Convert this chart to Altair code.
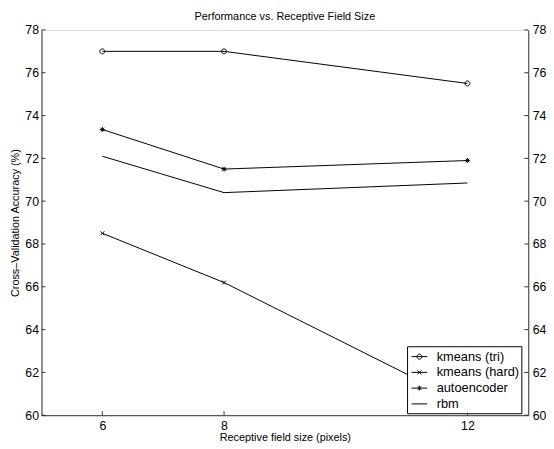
import altair as alt
import pandas as pd

# ---- data ----
chart_title = "Performance vs. Receptive Field Size"
sizes = [6, 8, 12]
series_names = ["kmeans (tri)", "kmeans (hard)", "autoencoder", "rbm"]
kmeans_tri = [77.0, 77.0, 75.5]
kmeans_hard = [68.5, 66.2, 60.5]
autoencoder = [73.35, 71.5, 71.9]
rbm = [72.1, 70.4, 70.85]
y_ticks = [60, 62, 64, 66, 68, 70, 72, 74, 76, 78]
x_ticks = [6, 8, 12]

rows = []
for name, vals in zip(series_names, [kmeans_tri, kmeans_hard, autoencoder, rbm]):
    for s, v in zip(sizes, vals):
        rows.append({"size": s, "acc": v, "series": name})
df = pd.DataFrame(rows)
df_markers = df[df["series"] != "rbm"]
df_legend = pd.DataFrame({"series": series_names})
df_yt = pd.DataFrame({"v": y_ticks})
df_xt = pd.DataFrame({"v": x_ticks})
df_title = pd.DataFrame({"t": [chart_title]})

FONT = "Liberation Sans"
W, H = 494, 391
AX = "#333333"

xscale = alt.Scale(domain=[5, 13], nice=False, zero=False)
yscale = alt.Scale(domain=[60, 78], nice=False, zero=False)

x_axis = alt.Axis(values=x_ticks, ticks=False, grid=False, domainColor=AX,
                  labelFont=FONT, labelFontSize=12.5, labelColor="black", labelPadding=4,
                  title="Receptive field size (pixels)", titleFont=FONT, titleFontSize=11,
                  titleFontWeight="normal", titleColor="black", titleBaseline="alphabetic",
                  titleX=W / 2, titleY=26)
y_axis_left = alt.Axis(values=y_ticks, ticks=False, grid=False, domainColor=AX,
                       labelFont=FONT, labelFontSize=12.5, labelColor="black", labelPadding=3,
                       title="Cross\u2013Validation Accuracy (%)", titleFont=FONT, titleFontSize=11,
                       titleFontWeight="normal", titleColor="black", titleBaseline="alphabetic",
                       titleAngle=270, titleAlign="center", titleX=-23, titleY=H / 2)
y_axis_right = alt.Axis(orient="right", values=y_ticks, ticks=False, grid=False, domainColor=AX,
                        labelFont=FONT, labelFontSize=12.5, labelColor="black", labelPadding=4,
                        title=None)

marker_paths = [
    "M1,0A1,1 0 1,1 -1,0A1,1 0 1,1 1,0Z",
    "M-0.8,-0.8L0.8,0.8M-0.8,0.8L0.8,-0.8",
    "M-1,0L1,0M0,-1L0,1M-0.7,-0.7L0.7,0.7M-0.7,0.7L0.7,-0.7",
]
r = 0.3125
legend_paths = [
    f"M-1,0L1,0M{r},0A{r},{r} 0 1,1 -{r},0A{r},{r} 0 1,1 {r},0Z",
    "M-1,0L1,0M-0.25,-0.25L0.25,0.25M-0.25,0.25L0.25,-0.25",
    "M-1,0L1,0M0,-0.3L0,0.3M-0.22,-0.22L0.22,0.22M-0.22,0.22L0.22,-0.22",
    "M-1,0L1,0",
]

lines = alt.Chart(df).mark_line(color="black", strokeWidth=1).encode(
    x=alt.X("size:Q", scale=xscale, axis=x_axis),
    y=alt.Y("acc:Q", scale=yscale, axis=y_axis_left),
    detail="series:N",
)

markers = alt.Chart(df_markers).mark_point(filled=False, color="black", strokeWidth=1,
                                           size=25, opacity=1).encode(
    x=alt.X("size:Q", scale=xscale, axis=x_axis),
    y=alt.Y("acc:Q", scale=yscale, axis=None),
    shape=alt.Shape("series:N", scale=alt.Scale(domain=series_names[:3], range=marker_paths),
                    legend=None),
)

# hidden (clipped) points that only carry the legend
legend_layer = alt.Chart(df_legend).mark_point(filled=False, color="black", strokeWidth=1,
                                               size=256, opacity=1, clip=True).encode(
    x=alt.value(-300),
    y=alt.value(H / 2),
    shape=alt.Shape("series:N", scale=alt.Scale(domain=series_names, range=legend_paths),
                    legend=alt.Legend(title=None, orient="none", legendX=371, legendY=321,
                                      fillColor="white", strokeColor="black", padding=2,
                                      cornerRadius=0, rowPadding=0, symbolSize=256,
                                      symbolOffset=2, labelOffset=9,
                                      symbolStrokeColor="black", symbolStrokeWidth=1,
                                      labelFont=FONT, labelFontSize=13, labelColor="black")),
)

left_ticks = alt.Chart(df_yt).mark_rule(color=AX, strokeWidth=1).encode(
    y=alt.Y("v:Q", scale=yscale, axis=None), x=alt.value(0), x2=alt.value(4))
right_ticks = alt.Chart(df_yt).mark_rule(color=AX, strokeWidth=1).encode(
    y=alt.Y("v:Q", scale=yscale, axis=y_axis_right), x=alt.value(W), x2=alt.value(W - 4))
bottom_ticks = alt.Chart(df_xt).mark_rule(color=AX, strokeWidth=1).encode(
    x=alt.X("v:Q", scale=xscale, axis=x_axis), y=alt.value(H), y2=alt.value(H - 4))

title_text = alt.Chart(df_title).mark_text(font=FONT, fontSize=11, color="black",
                                           align="center", baseline="alphabetic").encode(
    text="t:N", x=alt.value(W / 2), y=alt.value(-10))

chart = alt.layer(
    lines, markers, left_ticks, right_ticks, bottom_ticks, title_text, legend_layer
).resolve_scale(shape="independent").resolve_legend(shape="independent").resolve_axis(
    y="independent"
).properties(
    width=W, height=H,
    autosize=alt.AutoSizeParams(type="none"),
    padding={"left": 34, "top": 19, "right": 18, "bottom": 31},
).configure_view(stroke=None).configure(background="white")

chart.save("out.html", embed_options={"renderer": "svg", "actions": False})
